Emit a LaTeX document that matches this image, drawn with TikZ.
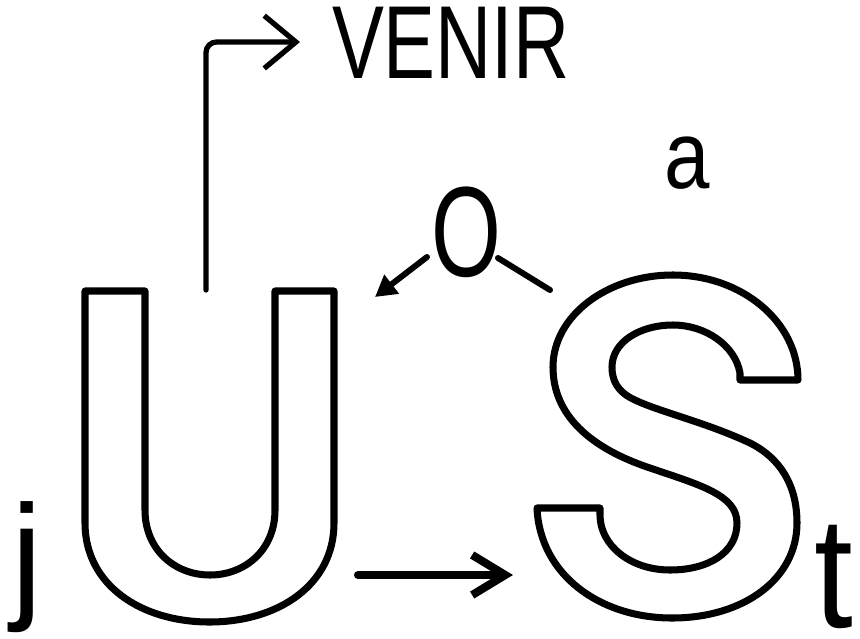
\documentclass[tikz,border=0pt]{standalone}
\usepackage{fontspec}
\setmainfont{Liberation Sans}
\usetikzlibrary{arrows.meta}
\tikzset{
  letteroutline/.style={draw=black,line width=2pt,line join=round},
  lbl/.style={inner sep=0pt,outer sep=0pt,text=black},
  conn/.style={draw=black,line cap=round},
}
\begin{document}
\begin{tikzpicture}[x=0.01cm,y=-0.01cm]
\useasboundingbox[fill=white] (0,0) rectangle (860,639);

% big outlined U
\path[letteroutline] (85,291) -- (145,291) -- (145,510)
  .. controls (145,550) and (175,575) .. (210,575)
  .. controls (245,575) and (275,550) .. (275,510)
  -- (275,291) -- (334,291) -- (334,523)
  .. controls (334,585) and (278,622) .. (209.5,622)
  .. controls (141,622) and (85,585) .. (85,523) -- cycle;

% big outlined S
\path[letteroutline] (798,380)
  .. controls (798,322) and (742,275) .. (673,275)
  .. controls (607,275) and (553,316) .. (553,367)
  .. controls (553,415) and (590,448) .. (650,468)
  .. controls (700,485) and (737,495) .. (737,523)
  .. controls (737,553) and (708,570) .. (670,570)
  .. controls (630,570) and (600,545) .. (600,515)
  -- (600,508) -- (537,508)
  .. controls (540,575) and (600,618) .. (672,618)
  .. controls (745,618) and (797,578) .. (797,523)
  .. controls (797,485) and (780,458) .. (750,443)
  .. controls (705,422) and (660,412) .. (635,400)
  .. controls (617,392) and (612,380) .. (612,367)
  .. controls (612,342) and (640,325) .. (673,325)
  .. controls (705,325) and (735,345) .. (740,373)
  -- (740,380) -- cycle;

% text labels
\node[lbl,anchor=base west] (venir) at (332,78)
  {\fontsize{29.5}{34}\selectfont\scalebox{0.75}[1]{VENIR}};
\node[lbl,anchor=base] (o) at (466,276)
  {\fontsize{36.5}{42}\selectfont\scalebox{0.7}[1]{O}};
\node[lbl,anchor=base] (a) at (687,188)
  {\fontsize{27.3}{32}\selectfont\scalebox{0.85}[1]{a}};
\node[lbl,anchor=base] (j) at (27,603)
  {\fontsize{40}{46}\selectfont j};
\node[lbl,anchor=base] (t) at (834,627)
  {\fontsize{45}{50}\selectfont\scalebox{0.88}[1]{t}};

% connector endpoints
\coordinate (uTop) at (206,290);
\coordinate (vTip) at (300,42);
\coordinate (uRight) at (358,575);
\coordinate (sLeft) at (513,575);
\coordinate (oLeft) at (427,257);
\coordinate (oLeftTip) at (375,297);
\coordinate (oRight) at (498,258);
\coordinate (oRightEnd) at (550,290);

% arrows
\draw[conn,line width=1.5pt,rounded corners=3pt,
  -{Straight Barb[length=9pt,width=15pt,line width=1.5pt]}]
  (uTop) |- (vTip);
\draw[conn,line width=2.3pt,
  -{Straight Barb[length=9.4pt,width=11.4pt,line width=2.3pt]}]
  (uRight) -- (sLeft);
\draw[conn,line width=1.7pt,-{Triangle[length=6pt,width=6.5pt]}]
  (oLeft) -- (oLeftTip);
\draw[conn,line width=1.7pt] (oRight) -- (oRightEnd);
\end{tikzpicture}
\end{document}
